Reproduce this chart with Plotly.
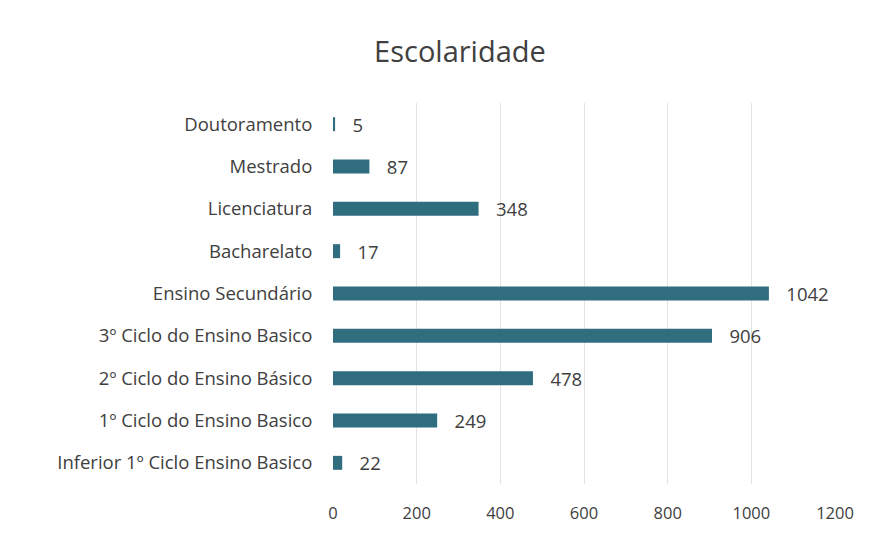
import plotly.graph_objects as go

categories = [
    "Inferior 1º Ciclo Ensino Basico",
    "1º Ciclo do Ensino Basico",
    "2º Ciclo do Ensino Básico",
    "3º Ciclo do Ensino Basico",
    "Ensino Secundário",
    "Bacharelato",
    "Licenciatura",
    "Mestrado",
    "Doutoramento",
]
values = [22, 249, 478, 906, 1042, 17, 348, 87, 5]
x_ticks = [0, 200, 400, 600, 800, 1000, 1200]

FONT = "Open Sans, sans-serif"

fig = go.Figure(go.Bar(
    y=categories,
    x=values,
    orientation="h",
    marker=dict(color="#306d7f", line=dict(width=0)),
    texttemplate="   %{x}",
    textposition="outside",
    constraintext="none",
    textfont=dict(size=18.5, color="#404040", family=FONT),
    cliponaxis=False,
    width=0.33,
))

fig.update_layout(
    width=881, height=535,
    margin=dict(l=325, r=54, t=95, b=59),
    paper_bgcolor="white", plot_bgcolor="white",
    font=dict(family=FONT, color="#404040"),
    title=dict(text="Escolaridade", x=0.513, xanchor="center", y=0.918, yanchor="middle",
               xref="container", yref="container", font=dict(size=29, color="#404040", family=FONT)),
    showlegend=False,
)
fig.update_xaxes(
    range=[0, 1200], tickvals=x_ticks, ticktext=[str(t) for t in x_ticks],
    showgrid=True, gridcolor="#e3e3e3", gridwidth=1, zeroline=False,
    showline=False, tickfont=dict(size=16.5, color="#404040", family=FONT),
    ticks="outside", ticklen=14, tickcolor="rgba(0,0,0,0)",
    automargin=False,
)
fig.update_yaxes(
    categoryorder="array", categoryarray=categories,
    range=[-0.5, 8.5],
    showgrid=False, zeroline=False, showline=False,
    tickfont=dict(size=18.5, color="#404040", family=FONT),
    ticks="outside", ticklen=16, tickcolor="rgba(0,0,0,0)",
    automargin=False,
)

fig.write_html("out.html")
